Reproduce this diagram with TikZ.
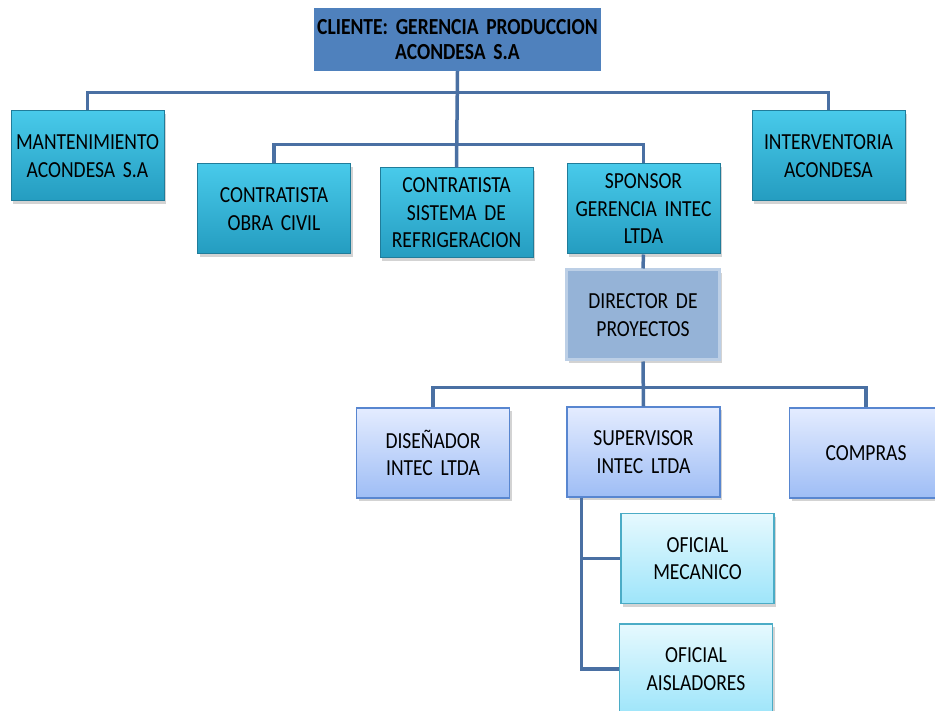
\documentclass[tikz,border=0pt]{standalone}
\usepackage{fontspec}
\setmainfont{Carlito}[FakeStretch=0.85, WordSpace=0.6]
\usetikzlibrary{shadows}

\definecolor{linkblue}{RGB}{74,112,163}
\definecolor{clientfill}{RGB}{79,129,189}
\definecolor{tealtop}{RGB}{72,202,234}
\definecolor{tealbot}{RGB}{36,156,192}
\definecolor{tealedge}{RGB}{32,124,154}
\definecolor{dirfill}{RGB}{149,179,215}
\definecolor{diredge}{RGB}{188,207,230}
\definecolor{bluetop}{RGB}{228,236,255}
\definecolor{bluebot}{RGB}{158,189,245}
\definecolor{blueedge}{RGB}{88,134,208}
\definecolor{aquatop}{RGB}{230,249,254}
\definecolor{aquabot}{RGB}{158,229,250}
\definecolor{aquaedge}{RGB}{75,172,198}

\begin{document}
\begin{tikzpicture}[x=1pt, y=-1pt,
  orgbox/.style={minimum width=153pt, minimum height=90pt, text width=147pt, align=center, inner sep=0pt,
    font=\fontsize{23pt}{27.5pt}\selectfont, drop shadow={opacity=0.35, shadow xshift=2pt, shadow yshift=-3pt}},
  clientbox/.style={minimum width=287pt, minimum height=63pt, text width=282pt, align=center, inner sep=0pt,
    fill=clientfill, font=\fontsize{23pt}{25pt}\selectfont\bfseries},
  tealbox/.style={orgbox, draw=tealedge, line width=1pt, top color=tealtop, bottom color=tealbot},
  dirbox/.style={orgbox, draw=diredge, line width=3pt, fill=dirfill, drop shadow={opacity=0}},
  bluebox/.style={orgbox, draw=blueedge, line width=1.2pt, top color=bluetop, bottom color=bluebot},
  aquabox/.style={orgbox, draw=aquaedge, line width=1.2pt, top color=aquatop, bottom color=aquabot},
  link/.style={draw=linkblue, line width=3.5pt}]
\useasboundingbox (0,0) rectangle (935,711);
\clip (0,0) rectangle (935,711);

\path (457.5,39.5) node[clientbox](cliente) {CLIENTE: GERENCIA PRODUCCION\\ACONDESA S.A};
\path (87.5,156) node[tealbox](mantenimiento) {MANTENIMIENTO\\ACONDESA S.A};
\path (828.5,156) node[tealbox](interventoria) {INTERVENTORIA\\ACONDESA};
\path (274,209) node[tealbox](obra-civil) {CONTRATISTA\\OBRA CIVIL};
\path (456.5,213) node[tealbox](refrigeracion) {CONTRATISTA\\SISTEMA DE\\REFRIGERACION};
\path (643.5,209) node[tealbox](sponsor) {SPONSOR\\GERENCIA INTEC\\LTDA};
\path (643,315) node[dirbox](director) {DIRECTOR DE\\PROYECTOS};
\path (433,453) node[bluebox](disenador) {DISEÑADOR\\INTEC LTDA};
\path (643.5,452) node[bluebox](supervisor) {SUPERVISOR\\INTEC LTDA};
\path (866,453) node[bluebox](compras) {COMPRAS};
\path (697.5,558.5) node[aquabox](mecanico) {OFICIAL\\MECANICO};
\path (696,669) node[aquabox](aisladores) {OFICIAL\\AISLADORES};

\draw[link] (cliente.south) -- (refrigeracion.north);
\draw[link] (mantenimiento.north) -- ++(0,-18) -| (interventoria.north);
\draw[link] (obra-civil.north) -- ++(0,-19) -| (sponsor.north);
\draw[link] (sponsor.south) -- (director.north);
\draw[link] (director.south) -- (supervisor.north);
\draw[link] (disenador.north) -- ++(0,-20) -| (compras.north);
\draw[link] ([xshift=15pt]supervisor.south west) |- (mecanico.west);
\draw[link] ([xshift=15pt]supervisor.south west) |- (aisladores.west);

\end{tikzpicture}
\end{document}
